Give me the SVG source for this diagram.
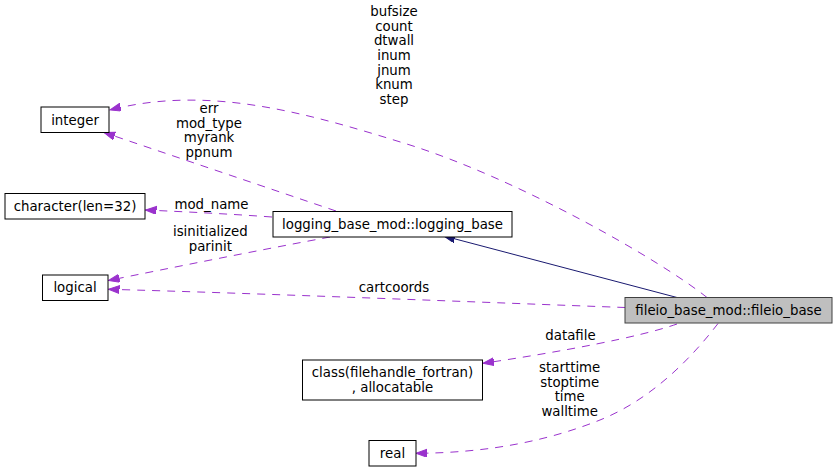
<svg xmlns="http://www.w3.org/2000/svg" width="837" height="472" viewBox="0 0 837 472">
<style>
  text { font-family: "DejaVu Sans", "Liberation Sans", sans-serif; font-size: 13.33px; fill: #000; text-anchor: middle; }
  .node rect { fill: #fff; stroke: #000; stroke-width: 1; }
  .node.cur rect { fill: #bfbfbf; stroke: #404040; }
  .dep { fill: none; stroke: #9a32cd; stroke-width: 1; stroke-dasharray: 8,7; }
  .inh { fill: none; stroke: #191970; stroke-width: 1; }
</style>
<defs>
  <marker id="ap" markerUnits="userSpaceOnUse" markerWidth="14" markerHeight="10" refX="11" refY="4" orient="auto">
    <path d="M0,0 L11,4 L0,8 z" fill="#9a32cd" stroke="#9a32cd" stroke-width="1"/>
  </marker>
  <marker id="an" markerUnits="userSpaceOnUse" markerWidth="14" markerHeight="10" refX="11" refY="4" orient="auto">
    <path d="M0,0 L11,4 L0,8 z" fill="#191970" stroke="#191970" stroke-width="1"/>
  </marker>
</defs>
<rect width="837" height="472" fill="#fff"/>
<g id="edges">
  <path class="inh" d="M677,297.5 L444,236" marker-end="url(#an)"/>
  <path class="dep" d="M707,297.5 C660,260 520,180 410,145 C310,114 210,84 110,110" marker-end="url(#ap)"/>
  <path class="dep" d="M336,211 L104,132.5" marker-end="url(#ap)"/>
  <path class="dep" d="M272,217 C230,214 190,212 145.5,210" marker-end="url(#ap)"/>
  <path class="dep" d="M330,237 C260,250 170,268 108.5,280.5" marker-end="url(#ap)"/>
  <path class="dep" d="M625,307.5 C500,303 250,293 108.5,289.3" marker-end="url(#ap)"/>
  <path class="dep" d="M677,324 C640,337 560,352 483,363.3" marker-end="url(#ap)"/>
  <path class="dep" d="M718,323.5 C690,360 650,400 600,420 C550,440 490,453 416,453.3" marker-end="url(#ap)"/>
  <g id="edge-labels">
    <text x="394" y="16">bufsize</text>
    <text x="394" y="30.7">count</text>
    <text x="394" y="45.4">dtwall</text>
    <text x="394" y="60">inum</text>
    <text x="394" y="74.7">jnum</text>
    <text x="394" y="89.4">knum</text>
    <text x="394" y="104">step</text>
    <text x="209" y="112.8">err</text>
    <text x="209" y="127.5">mod_type</text>
    <text x="209" y="142.2">myrank</text>
    <text x="209" y="156.9">ppnum</text>
    <text x="211.5" y="208.5">mod_name</text>
    <text x="210.3" y="236">isinitialized</text>
    <text x="210.3" y="250.7">parinit</text>
    <text x="394" y="292">cartcoords</text>
    <text x="570.5" y="339.5">datafile</text>
    <text x="569.7" y="371.8">starttime</text>
    <text x="569.7" y="386.5">stoptime</text>
    <text x="569.7" y="401.2">time</text>
    <text x="569.7" y="415.9">walltime</text>
  </g>
</g>
<g id="node-integer" class="node">
  <rect x="41" y="107" width="68" height="25.5"/>
  <text x="75" y="124.5">integer</text>
</g>
<g id="node-character" class="node">
  <rect x="5" y="193.5" width="140" height="25.5"/>
  <text x="75" y="211">character(len=32)</text>
</g>
<g id="node-logging_base" class="node">
  <rect x="273" y="211.5" width="239" height="25.5"/>
  <text x="392.5" y="228.7">logging_base_mod::logging_base</text>
</g>
<g id="node-logical" class="node">
  <rect x="42.5" y="275" width="65.5" height="25.5"/>
  <text x="75" y="292.3">logical</text>
</g>
<g id="node-fileio_base" class="node cur">
  <rect x="625" y="297.5" width="207" height="25.5"/>
  <text x="728.5" y="315">fileio_base_mod::fileio_base</text>
</g>
<g id="node-filehandle" class="node">
  <rect x="302.5" y="360" width="180" height="40"/>
  <text x="392.5" y="377">class(filehandle_fortran)</text>
  <text x="392.5" y="391.5">, allocatable</text>
</g>
<g id="node-real" class="node">
  <rect x="369" y="440.5" width="47" height="25.5"/>
  <text x="392.5" y="457.5">real</text>
</g>
</svg>
